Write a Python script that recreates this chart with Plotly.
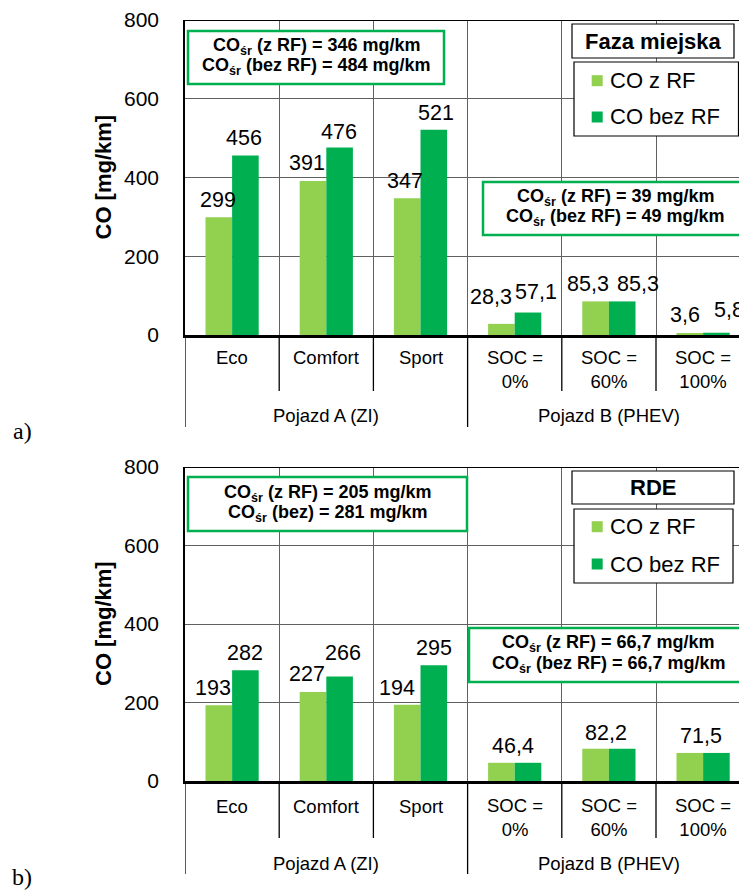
import plotly.graph_objects as go

# ---------------- data ----------------
categories = ["Eco", "Comfort", "Sport", "SOC = 0%", "SOC = 60%", "SOC = 100%"]
vehicle_groups = ["Pojazd A (ZI)", "Pojazd B (PHEV)"]
group_spans = [(0, 2), (3, 5)]          # first / last category index of each group
series_names = ["CO z RF", "CO bez RF"]
panel_titles = ["Faza miejska", "RDE"]
panel_letters = ["a)", "b)"]

co_z_rf_miejska = [299, 391, 347, 28.3, 85.3, 3.6]
co_bez_rf_miejska = [456, 476, 521, 57.1, 85.3, 5.8]
co_z_rf_rde = [193, 227, 194, 46.4, 82.2, 71.5]
co_bez_rf_rde = [282, 266, 295, 46.4, 82.2, 71.5]

y_ticks = [0, 200, 400, 600, 800]
y_title = "CO [mg/km]"

avg_miejska_a = ["CO<sub>śr</sub> (z RF) = 346 mg/km", "CO<sub>śr</sub> (bez RF) = 484 mg/km"]
avg_miejska_b = ["CO<sub>śr</sub> (z RF) = 39 mg/km", "CO<sub>śr</sub> (bez RF) = 49 mg/km"]
avg_rde_a = ["CO<sub>śr</sub> (z RF) = 205 mg/km", "CO<sub>śr</sub> (bez) = 281 mg/km"]
avg_rde_b = ["CO<sub>śr</sub> (z RF) = 66,7 mg/km", "CO<sub>śr</sub> (bez RF) = 66,7 mg/km"]

# ---------------- styling ----------------
W, H = 739, 890
SANS = "Liberation Sans, Arial, sans-serif"
SERIF = "Liberation Serif, Times New Roman, serif"
LIGHT = "#92D050"
DARK = "#00B050"
GRID = "#606060"
BARGAP = 0.435
XOFF = (1 - BARGAP) / 4          # centre of each bar relative to its category

PLOT_LEFT = 185
CAT_W = 94.2
X_RANGE = [-0.5, -0.5 + (W - PLOT_LEFT) / CAT_W]


def px(x):
    return x / W


def py(y):
    return 1 - y / H


# pixel layout for the two panels
panels = [
    dict(top=20, bottom=335, row1=391, row2=427, lab1=357, lab2=369, glab=415.5,
         letter_y=431, xa="x", ya="y",
         z=co_z_rf_miejska, bez=co_bez_rf_miejska,
         # (dx px, dy px) for each label: light series, dark series
         off_z=[(-1, 17), (-6, 18), (-2, 17), (-10, 27), (-8, 17), (-5, 19)],
         off_bez=[(-1, 17), (-1, 16), (2, 17), (8, 21), (16, 17), (13, 23)],
         merged=[],
         box_a=dict(x0=188, x1=444, y0=31, y1=84, lines=avg_miejska_a, ly=[47, 67]),
         box_b=dict(x0=483, x1=747, y0=182, y1=235, lines=avg_miejska_b, ly=[197.5, 217.5]),
         title_box=(572, 734, 24, 58), title_y=41,
         legend_box=(574, 738.5, 62, 136), leg_y=[80.7, 117]),
    dict(top=467, bottom=781, row1=838, row2=874, lab1=806, lab2=817, glab=863.4,
         letter_y=877, xa="x2", ya="y2",
         z=co_z_rf_rde, bez=co_bez_rf_rde,
         off_z=[(-6, 17), (-6, 18), (-10, 17), (-2, 17), (-3, 16), (-2, 17)],
         off_bez=[(0, 17), (3, 24), (0, 17), (0, 0), (0, 0), (0, 0)],
         merged=[3, 4, 5],
         box_a=dict(x0=188, x1=467, y0=477, y1=531, lines=avg_rde_a, ly=[493.5, 513.5]),
         box_b=dict(x0=469, x1=747, y0=628, y1=682, lines=avg_rde_b, ly=[643, 664]),
         title_box=(572, 734, 471, 504), title_y=487.5,
         legend_box=(574, 733, 509, 583), leg_y=[526.7, 564]),
]


def fmt(v):
    return f"{v:g}".replace(".", ",")


fig = go.Figure()
shapes = []
annotations = []


def text(t, x, y, size, bold=False, xanchor="center", yanchor="middle",
         xref="paper", yref="paper", family=SANS, angle=0, xshift=0, yshift=0):
    annotations.append(dict(
        text=f"<b>{t}</b>" if bold else t, x=x, y=y, xref=xref, yref=yref,
        xanchor=xanchor, yanchor=yanchor, showarrow=False, textangle=angle,
        xshift=xshift, yshift=yshift, font=dict(family=family, size=size, color="black")))


def line(x0, y0, x1, y1, color="black", width=1.3, xref="paper", yref="paper"):
    shapes.append(dict(type="line", x0=x0, y0=y0, x1=x1, y1=y1, xref=xref, yref=yref,
                       line=dict(color=color, width=width)))


def rect(x0, x1, y0, y1, color, width):
    shapes.append(dict(type="rect", x0=px(x0), x1=px(x1), y0=py(y1), y1=py(y0),
                       xref="paper", yref="paper", line=dict(color=color, width=width),
                       fillcolor="white", layer="above"))


layout_axes = {}
for k, p in enumerate(panels):
    xa, ya = p["xa"], p["ya"]
    xkey = "xaxis" if xa == "x" else "xaxis2"
    ykey = "yaxis" if ya == "y" else "yaxis2"

    fig.add_trace(go.Bar(x=categories, y=p["z"], name=series_names[0], marker_color=LIGHT,
                         marker_line_width=0, xaxis=xa, yaxis=ya, showlegend=False))
    fig.add_trace(go.Bar(x=categories, y=p["bez"], name=series_names[1], marker_color=DARK,
                         marker_line_width=0, xaxis=xa, yaxis=ya, showlegend=False))

    layout_axes[xkey] = dict(
        domain=[px(PLOT_LEFT), 1], anchor=ya, type="category", range=X_RANGE,
        tickson="boundaries", showgrid=True, gridcolor=GRID, gridwidth=1,
        showticklabels=False, ticks="", showline=True, linecolor="black", linewidth=2.5,
        fixedrange=True, automargin=False)
    layout_axes[ykey] = dict(
        domain=[py(p["bottom"]), py(p["top"])], anchor=xa, range=[0, 800],
        tickvals=y_ticks, ticktext=[str(v) for v in y_ticks], showgrid=True,
        gridcolor=GRID, gridwidth=1, zeroline=False, showline=True, linecolor="black",
        linewidth=1.5, ticks="", ticklabelstandoff=20, automargin=False,
        tickfont=dict(family=SANS, size=21, color="black"), fixedrange=True)

    # top frame line
    line(px(PLOT_LEFT), 800, 1, 800, width=2, yref=ya)

    # value labels
    for i, cat in enumerate(categories):
        if i in p["merged"]:
            dx, dy = p["off_z"][i]
            text(fmt(p["z"][i]), i, p["z"][i], 21.5, xref=xa, yref=ya,
                 xshift=dx, yshift=dy)
            continue
        dx, dy = p["off_z"][i]
        text(fmt(p["z"][i]), i - XOFF, p["z"][i], 21.5, xref=xa, yref=ya,
             xshift=dx, yshift=dy)
        dx, dy = p["off_bez"][i]
        text(fmt(p["bez"][i]), i + XOFF, p["bez"][i], 21.5, xref=xa, yref=ya,
             xshift=dx, yshift=dy)

    # category table under the axis
    group_edges = {g[0] - 0.5 for g in group_spans} | {g[1] + 0.5 for g in group_spans}
    for b in [i - 0.5 for i in range(len(categories) + 1)]:
        bottom = p["row2"] if b in group_edges else p["row1"]
        line(b, py(p["bottom"]), b, py(bottom), xref=xa)
    for i, cat in enumerate(categories):
        if "=" in cat:
            head, tail = cat.split("= ")
            text(head + "=<br>" + tail, i, py(p["lab2"]), 18.5, xref=xa)
        else:
            text(cat, i, py(p["lab1"]), 18.5, xref=xa)
    for g, (a, b) in zip(vehicle_groups, group_spans):
        text(g, (a + b) / 2, py(p["glab"]), 18.5, xref=xa)

    # axis title and panel letter
    text(y_title, px(103), py((p["top"] + p["bottom"]) / 2), 22, bold=True, angle=-90)
    text(panel_letters[k], px(22), py(p["letter_y"]), 24, family=SERIF)

    # average boxes
    for box in (p["box_a"], p["box_b"]):
        rect(box["x0"], box["x1"], box["y0"], box["y1"], DARK, 2.5)
        cx = (box["x0"] + box["x1"]) / 2
        for t, yy in zip(box["lines"], box["ly"]):
            text(t, px(cx), py(yy), 18, bold=True)

    # panel title and legend
    tx0, tx1, ty0, ty1 = p["title_box"]
    rect(tx0, tx1, ty0, ty1, "black", 1.2)
    text(panel_titles[k], px((tx0 + tx1) / 2), py(p["title_y"]), 22, bold=True)
    lx0, lx1, ly0, ly1 = p["legend_box"]
    rect(lx0, lx1, ly0, ly1, "black", 1.2)
    for name, col, yy in zip(series_names, [LIGHT, DARK], p["leg_y"]):
        shapes.append(dict(type="rect", xref="paper", yref="paper",
                           x0=px(591.7), x1=px(602.7), y0=py(yy + 5.5), y1=py(yy - 5.5),
                           fillcolor=col, line=dict(width=0), layer="above"))
        text(name, px(608), py(yy), 22, xanchor="left")

fig.update_layout(
    width=W, height=H, margin=dict(l=0, r=0, t=0, b=0, autoexpand=False),
    paper_bgcolor="white", plot_bgcolor="white",
    barmode="group", bargap=BARGAP, bargroupgap=0,
    font=dict(family=SANS, color="black"),
    shapes=shapes, annotations=annotations, showlegend=False,
    **layout_axes,
)

fig.write_html("out.html")
